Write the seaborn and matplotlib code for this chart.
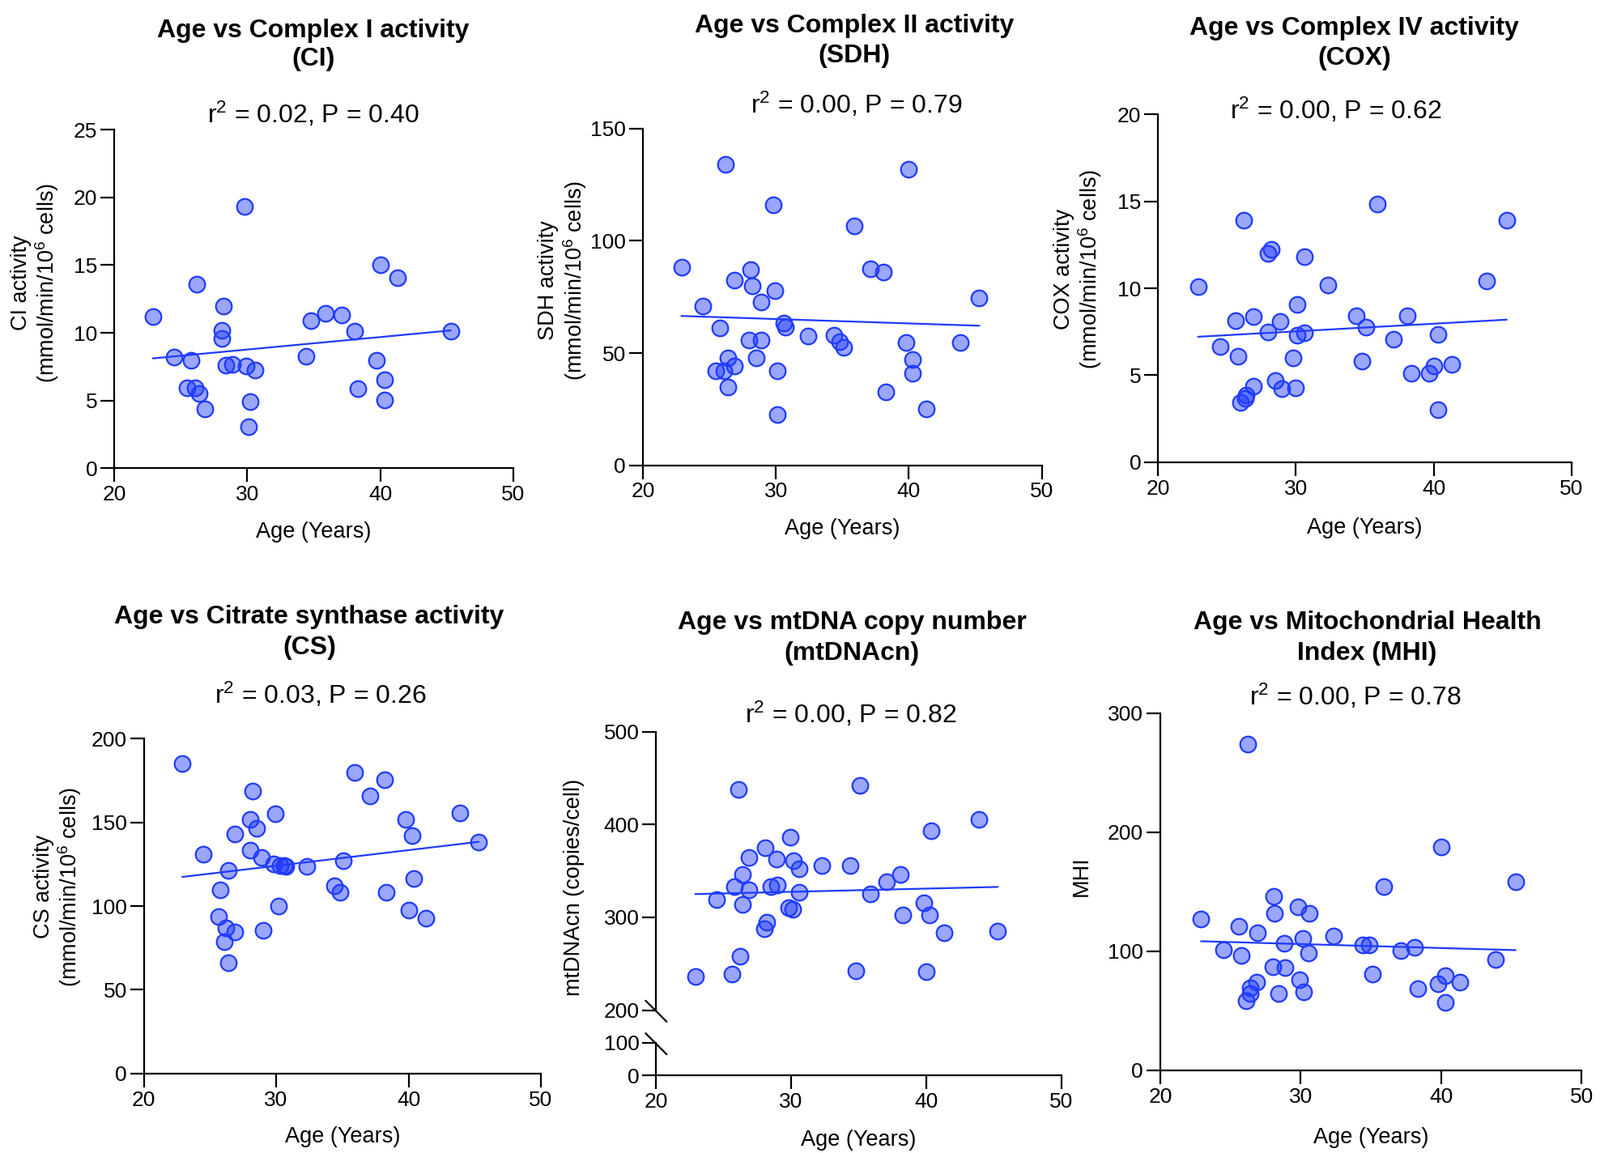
import numpy as np
import matplotlib
matplotlib.use("Agg")
import matplotlib.pyplot as plt
from matplotlib.lines import Line2D
import seaborn as sns

ci_age = [22.9, 24.5, 25.8, 25.5, 26.1, 26.4, 26.8, 26.2, 28.2, 28.1, 28.1, 28.4, 28.9, 29.8, 29.9,
          30.6, 30.2, 30.1, 34.4, 34.8, 35.9, 37.1, 38.1, 38.3, 40.0, 41.3, 39.7, 40.3, 40.3, 45.3]
ci_val = [11.2, 8.2, 7.95, 5.95, 5.95, 5.5, 4.4, 13.6, 12.0, 10.2, 9.6, 7.6, 7.7, 19.35, 7.55,
          7.25, 4.95, 3.1, 8.25, 10.9, 11.45, 11.3, 10.15, 5.9, 15.0, 14.05, 8.0, 6.55, 5.05, 10.1]

sdh_age = [22.9, 24.5, 25.8, 25.5, 26.1, 26.4, 26.9, 26.4, 26.2, 26.9, 28.1, 28.2, 28.0, 28.5, 28.9,
           28.9, 29.8, 29.9, 30.1, 30.1, 30.6, 30.7, 32.4, 34.4, 34.8, 35.1, 35.9, 37.1, 38.1, 38.3,
           40.0, 39.8, 40.3, 40.3, 41.3, 43.9, 45.3]
sdh_val = [88.2, 71.0, 61.2, 41.9, 41.9, 47.8, 44.4, 34.9, 134.0, 82.6, 87.1, 79.8, 55.6, 47.8, 72.9,
           55.9, 115.9, 77.7, 41.9, 22.6, 63.2, 61.5, 57.6, 58.1, 55.1, 52.6, 106.7, 87.5, 86.0, 32.7,
           131.8, 54.8, 47.2, 41.1, 25.1, 54.8, 74.5]

cox_age = [22.9, 24.5, 25.65, 25.8, 26.0, 26.3, 26.4, 26.9, 26.2, 26.9, 28.0, 28.2, 28.0, 28.5, 28.85,
           28.95, 29.8, 29.97, 30.1, 30.1, 30.6, 30.6, 32.3, 34.4, 34.8, 35.1, 35.9, 37.1, 38.1, 38.35,
           39.7, 40.0, 40.3, 40.3, 41.3, 43.85, 45.3]
cox_val = [10.1, 6.63, 8.12, 6.09, 3.43, 3.67, 3.87, 4.37, 13.9, 8.39, 11.98, 12.24, 7.48, 4.68, 8.08,
           4.23, 5.99, 4.29, 9.05, 7.28, 7.44, 11.83, 10.2, 8.41, 5.79, 7.76, 14.84, 7.08, 8.41, 5.1,
           5.1, 5.52, 7.36, 3.02, 5.62, 10.4, 13.93]

cs_age = [22.9, 24.5, 25.8, 25.65, 26.2, 26.1, 26.4, 26.4, 26.9, 26.9, 28.2, 28.05, 28.5, 28.05, 28.9,
          29.0, 29.95, 29.8, 30.2, 30.3, 30.6, 30.7, 32.3, 34.4, 34.8, 35.1, 35.9, 37.1, 38.2, 38.3,
          39.8, 40.3, 40.4, 40.0, 41.3, 43.9, 45.3]
cs_val = [185.2, 131.0, 109.8, 93.7, 86.8, 78.5, 66.2, 121.3, 142.9, 84.6, 168.8, 151.8, 146.6, 133.6, 128.9,
          85.5, 155.3, 125.2, 100.0, 124.3, 124.1, 123.6, 123.6, 111.9, 108.2, 127.3, 180.0, 165.7, 175.7, 108.2,
          151.8, 141.9, 116.5, 97.8, 92.6, 155.5, 138.2]

mt_age = [22.9, 24.5, 25.8, 25.6, 26.1, 26.2, 26.4, 26.4, 26.9, 26.9, 28.1, 28.2, 28.0, 28.5, 28.9,
          29.0, 29.95, 29.8, 30.1, 30.15, 30.6, 30.6, 32.3, 34.4, 34.8, 35.1, 35.9, 37.1, 38.1, 38.3,
          39.8, 40.0, 40.25, 40.35, 41.35, 43.9, 45.3]
mt_val = [236.3, 319.5, 332.8, 239.1, 437.5, 257.8, 346.1, 314.1, 364.1, 329.7, 374.6, 294.9, 287.5, 332.8, 362.9,
          335.2, 385.9, 310.5, 308.6, 360.9, 351.9, 327.0, 355.5, 355.5, 242.6, 441.8, 325.4, 337.9, 345.7, 302.3,
          315.6, 241.4, 302.3, 393.0, 283.2, 405.5, 284.8]

mhi_age = [22.9, 24.5, 25.6, 25.8, 26.25, 26.1, 26.4, 26.4, 26.85, 26.9, 28.05, 28.15, 28.0, 28.4, 28.85,
           28.9, 29.8, 29.9, 30.15, 30.2, 30.6, 30.55, 32.35, 34.4, 34.9, 35.1, 35.9, 37.1, 38.1, 38.35,
           39.8, 40.0, 40.3, 40.3, 41.35, 43.9, 45.3]
mhi_val = [127.4, 101.5, 121.3, 96.3, 274.4, 58.2, 64.6, 69.2, 73.8, 115.5, 146.3, 131.7, 87.2, 64.3, 107.0,
           86.6, 137.5, 76.2, 111.0, 65.9, 131.7, 98.8, 112.8, 105.5, 105.2, 81.1, 154.3, 100.6, 103.4, 68.9,
           72.6, 187.5, 79.3, 57.0, 73.8, 93.3, 158.2]

titles = [["Age vs Complex I activity", "(CI)"],
          ["Age vs Complex II activity", "(SDH)"],
          ["Age vs Complex IV activity", "(COX)"],
          ["Age vs Citrate synthase activity", "(CS)"],
          ["Age vs mtDNA copy number", "(mtDNAcn)"],
          ["Age vs Mitochondrial Health", "Index (MHI)"]]
stats = ["r$^2$ = 0.02, P = 0.40", "r$^2$ = 0.00, P = 0.79", "r$^2$ = 0.00, P = 0.62",
         "r$^2$ = 0.03, P = 0.26", "r$^2$ = 0.00, P = 0.82", "r$^2$ = 0.00, P = 0.78"]
ylabels = ["CI activity\n(mmol/min/10$^6$ cells)", "SDH activity\n(mmol/min/10$^6$ cells)",
           "COX activity\n(mmol/min/10$^6$ cells)", "CS activity\n(mmol/min/10$^6$ cells)",
           "mtDNAcn (copies/cell)", "MHI"]

sns.set_style("ticks")
plt.rcParams['font.family'] = ['Liberation Sans', 'DejaVu Sans']
plt.rcParams['mathtext.fontset'] = 'custom'
plt.rcParams['mathtext.rm'] = 'Liberation Sans'
plt.rcParams['mathtext.it'] = 'Liberation Sans:italic'
plt.rcParams['text.color'] = 'black'
plt.rcParams['axes.labelcolor'] = 'black'
plt.rcParams['xtick.color'] = 'black'
plt.rcParams['ytick.color'] = 'black'

EDGE = "#1f3bff"
FILL = (0.12, 0.23, 1.0, 0.45)
W, H = 1568.0, 1130.0  # layout measured on the shrunk reference
FW, FH = 1976.0, 1424.0

fig = plt.figure(figsize=(19.76, 14.24), dpi=100)


def box(l, r, t, b):
    return [l / W, 1 - b / H, (r - l) / W, (b - t) / H]


def style(ax):
    sns.despine(ax=ax)
    for s in ["left", "bottom"]:
        ax.spines[s].set_linewidth(1.6)
        ax.spines[s].set_color("black")
    ax.tick_params(direction="out", length=12, width=1.6, labelsize=19, pad=3, colors="black")


def scatter_fit(ax, x, y):
    sns.regplot(x=np.array(x), y=np.array(y), ax=ax, ci=None,
                scatter_kws=dict(s=200, facecolors=FILL, edgecolors=EDGE, linewidths=1.6, alpha=None, zorder=3),
                line_kws=dict(color=EDGE, lw=1.6, zorder=4))
    ax.set_xlabel("")
    ax.set_ylabel("")


def break_mark(x, y, d=13):
    # "\" shaped slash centred on (x, y) given in shrunk px, d in output px
    fx, fy = x / W, 1 - y / H
    fig.add_artist(Line2D([fx - d / FW, fx + d / FW], [fy + d / FH, fy - d / FH],
                          transform=fig.transFigure, color="black", lw=1.6))


# positions (l, r, t, b) in shrunk px
boxes = [(112, 503, 127, 459), (630, 1021, 126, 456), (1135, 1540, 112, 453),
         (141, 530, 724, 1052), (643, 1040, 717, 990), (1137, 1550, 699, 1049)]
title_pos = [(307, 30, 58), (837, 25, 55), (1327, 28, 57), (303, 605, 635), (835, 610, 640), (1340, 610, 640)]
stat_pos = [(307, 112), (839, 103), (1309, 108), (314, 681), (834, 700), (1328, 683)]
ylab_pos = [(35, 277), (552, 275), (1057, 264), (57, 869), (563, 870), (1060, 859)]
xlab_y = [521, 518, 517, 1114, 1117, 1115]

data = [(ci_age, ci_val, 25, 5), (sdh_age, sdh_val, 150, 50), (cox_age, cox_val, 20, 5),
        (cs_age, cs_val, 200, 50), (mt_age, mt_val, 500, 100), (mhi_age, mhi_val, 300, 100)]

for i, (ages, vals, ymax, step) in enumerate(data):
    l, r, t, b = boxes[i]
    ax = fig.add_axes(box(l, r, t, b))
    scatter_fit(ax, ages, vals)
    style(ax)
    ax.set_xlim(20, 50)
    ax.set_xticks([20, 30, 40, 50])
    if i == 4:
        # broken y axis: upper part 200-500, lower part 0-100
        ax.set_ylim(200, ymax)
        ax.set_yticks([200, 300, 400, 500])
        ax.spines["bottom"].set_visible(False)
        ax.tick_params(axis="x", bottom=False, labelbottom=False)
        low = fig.add_axes(box(l, r, 1022, 1054))
        style(low)
        low.set_xlim(20, 50)
        low.set_xticks([20, 30, 40, 50])
        low.set_ylim(0, 100)
        low.set_yticks([0, 100])
        break_mark(l, 991)
        break_mark(l, 1023)
    else:
        ax.set_ylim(0, ymax)
        ax.set_yticks(np.arange(0, ymax + 1, step))

    tx, y1, y2 = title_pos[i]
    fig.text(tx / W, 1 - y1 / H, titles[i][0], ha="center", va="center", fontsize=23, fontweight="bold")
    fig.text(tx / W, 1 - y2 / H, titles[i][1], ha="center", va="center", fontsize=23, fontweight="bold")
    sx, sy = stat_pos[i]
    fig.text(sx / W, 1 - sy / H, stats[i], ha="center", va="center", fontsize=23)
    yx, yy = ylab_pos[i]
    fig.text(yx / W, 1 - yy / H, ylabels[i], ha="center", va="center", rotation=90,
             fontsize=19.5, multialignment="center", linespacing=1.1)
    fig.text((l + r) / 2 / W, 1 - xlab_y[i] / H, "Age (Years)", ha="center", va="center", fontsize=19.5)

fig.savefig("out.png", dpi=100)
